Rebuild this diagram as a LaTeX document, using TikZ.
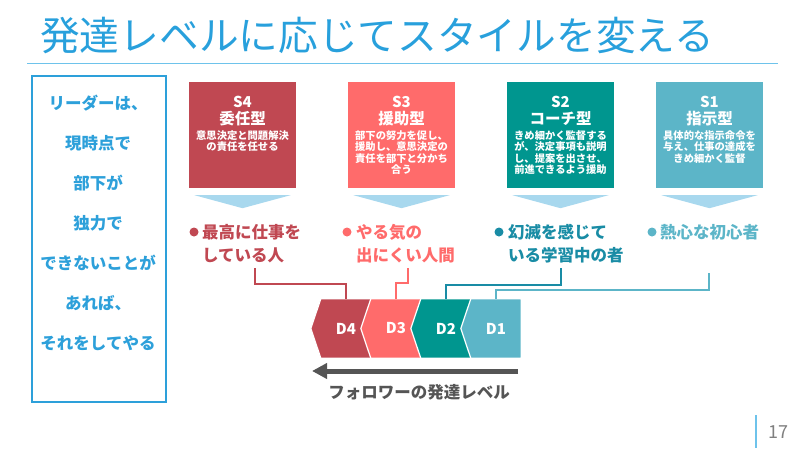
\documentclass[tikz,border=0pt]{standalone}
\usepackage{fontspec}
\setmainfont{Noto Sans CJK JP}
\usetikzlibrary{arrows.meta,backgrounds}

\definecolor{titleblue}{RGB}{40,160,220}
\definecolor{rulblue}{RGB}{110,195,235}
\definecolor{boxblue}{RGB}{45,160,218}
\definecolor{rose}{RGB}{192,72,82}
\definecolor{salmon}{RGB}{255,107,107}
\definecolor{deepteal}{RGB}{0,150,143}
\definecolor{skyteal}{RGB}{92,181,200}
\definecolor{labteal}{RGB}{25,140,165}
\definecolor{tri}{RGB}{168,216,238}
\definecolor{flowgray}{RGB}{85,85,85}

\tikzset{
  stylebox/.style={minimum width=107, minimum height=106, inner sep=0},
  boxid/.style={anchor=base, inner sep=0, text=white, font=\bfseries\fontsize{15}{15}\selectfont},
  boxname/.style={anchor=base, inner sep=0, text=white, font=\bfseries\fontsize{15.5}{16}\selectfont},
  boxdesc/.style={anchor=north, inner sep=0, align=center, text=white, font=\bfseries\fontsize{10.3}{11.5}\selectfont},
  dot/.style={circle, inner sep=0, minimum size=9},
  follower/.style={anchor=north west, inner sep=0, align=left, font=\bfseries\fontsize{16.5}{23}\selectfont},
  chev/.style={minimum width=50, minimum height=59, inner sep=0, text=white, font=\bfseries\fontsize{15}{15}\selectfont},
  link/.style={line width=1.4}
}

\begin{document}
\begin{tikzpicture}[x=1pt,y=-1pt]
\useasboundingbox (0,0) rectangle (800,450);

% Titulo
\node[anchor=base west, inner sep=0, text=titleblue, font=\fontsize{39.7}{40}\selectfont] (title) at (40,50) {発達レベルに応じてスタイルを変える};
\draw[rulblue, line width=1] (27,63) -- (778,63);

% Recuadro izquierdo
\node[draw=boxblue, line width=2.5, minimum width=134, minimum height=326, inner sep=0] (frame) at (99,239) {};
\node[inner sep=0, align=center, text=boxblue, font=\bfseries\fontsize{16.5}{40}\selectfont] (lead) at (98,223) {リーダーは、\\現時点で\\部下が\\独力で\\できないことが\\あれば、\\それをしてやる};

% Estilo S4
\node[stylebox, fill=rose] (s4) at (242.5,135) {};
\node[boxid] (s4id) at (242.5,107.5) {S4};
\node[boxname] (s4name) at (242.5,124) {委任型};
\node[boxdesc] (s4desc) at (242.5,130) {意思決定と問題解決\\の責任を任せる};

% Estilo S3
\node[stylebox, fill=salmon] (s3) at (401.5,135) {};
\node[boxid] (s3id) at (401.5,107.5) {S3};
\node[boxname] (s3name) at (401.5,124) {援助型};
\node[boxdesc] (s3desc) at (401.5,130) {部下の努力を促し、\\援助し、意思決定の\\責任を部下と分かち\\合う};

% Estilo S2
\node[stylebox, fill=deepteal] (s2) at (560.5,135) {};
\node[boxid] (s2id) at (560.5,107.5) {S2};
\node[boxname] (s2name) at (560.5,124) {コーチ型};
\node[boxdesc] (s2desc) at (560.5,130) {きめ細かく監督する\\が、決定事項も説明\\し、提案を出させ、\\前進できるよう援助};

% Estilo S1
\node[stylebox, fill=skyteal] (s1) at (709.5,135) {};
\node[boxid] (s1id) at (709.5,107.5) {S1};
\node[boxname] (s1name) at (709.5,124) {指示型};
\node[boxdesc] (s1desc) at (709.5,130) {具体的な指示命令を\\与え、仕事の達成を\\きめ細かく監督};

% Flechas hacia abajo
\fill[tri] ([xshift=-48pt,yshift=-7pt]s4.south) -- ([xshift=48pt,yshift=-7pt]s4.south) -- ([yshift=-20pt]s4.south) -- cycle;
\fill[tri] ([xshift=-48pt,yshift=-7pt]s3.south) -- ([xshift=48pt,yshift=-7pt]s3.south) -- ([yshift=-20pt]s3.south) -- cycle;
\fill[tri] ([xshift=-48pt,yshift=-7pt]s2.south) -- ([xshift=48pt,yshift=-7pt]s2.south) -- ([yshift=-20pt]s2.south) -- cycle;
\fill[tri] ([xshift=-48pt,yshift=-7pt]s1.south) -- ([xshift=48pt,yshift=-7pt]s1.south) -- ([yshift=-20pt]s1.south) -- cycle;

% Seguidores
\node[dot, fill=rose] (b4) at (194,232) {};
\node[follower, text=rose] (f4) at (202,224) {最高に仕事を\\している人};
\node[dot, fill=salmon] (b3) at (347,232) {};
\node[follower, text=salmon] (f3) at (356,224) {やる気の\\出にくい人間};
\node[dot, fill=labteal] (b2) at (499,232) {};
\node[follower, text=labteal] (f2) at (508,224) {幻滅を感じて\\いる学習中の者};
\node[dot, fill=skyteal] (b1) at (652,232) {};
\node[follower, text=skyteal] (f1) at (660,224) {熱心な初心者};

% Niveles de desarrollo
\node[chev] (d4) at (346,328.5) {D4};
\node[chev] (d3) at (396,328.5) {D3};
\node[chev] (d2) at (446,328.5) {D2};
\node[chev] (d1) at (496,328.5) {D1};
\begin{scope}[on background layer]
\filldraw[fill=rose, draw=white, line width=1.2] (d4.north west) -- (d4.north east) -- (d4.south east) -- (d4.south west) -- ([xshift=-10pt]d4.west) -- cycle;
\filldraw[fill=salmon, draw=white, line width=1.2] (d3.north west) -- (d3.north east) -- (d3.south east) -- (d3.south west) -- ([xshift=-10pt]d3.west) -- cycle;
\filldraw[fill=deepteal, draw=white, line width=1.2] (d2.north west) -- (d2.north east) -- (d2.south east) -- (d2.south west) -- ([xshift=-10pt]d2.west) -- cycle;
\filldraw[fill=skyteal, draw=white, line width=1.2] (d1.north west) -- (d1.north east) -- (d1.south east) -- (d1.south west) -- ([xshift=-10pt]d1.west) -- cycle;
\end{scope}

% Conectores
\coordinate (p4) at (255,268);
\coordinate (p3) at (408,268);
\coordinate (p2) at (561,268);
\coordinate (p1) at (709,273);
\draw[link, rose] (p4) -- (255,284) -| (d4.north);
\draw[link, salmon] (p3) -- (408,283) -| (d3.north);
\draw[link, labteal] (p2) -- (561,285) -| (d2.north);
\draw[link, skyteal] (p1) -- (709,290) -| (d1.north);

% Flecha de desarrollo
\coordinate (flowstart) at (518,371);
\coordinate (flowend) at (312,371);
\draw[flowgray, line width=5, -{Triangle[length=15pt,width=15pt]}] (flowstart) -- (flowend);
\node[text=flowgray, font=\bfseries\fontsize{16.5}{17}\selectfont] (flowlabel) at (419,392) {フォロワーの発達レベル};

% Numero de pagina
\coordinate (pgtop) at (756,415);
\coordinate (pgbot) at (756,448);
\draw[rulblue, line width=1.2] (pgtop) -- (pgbot);
\node[text=gray, font=\fontsize{18}{18}\selectfont] (pagenum) at (778,432) {17};

\end{tikzpicture}
\end{document}
